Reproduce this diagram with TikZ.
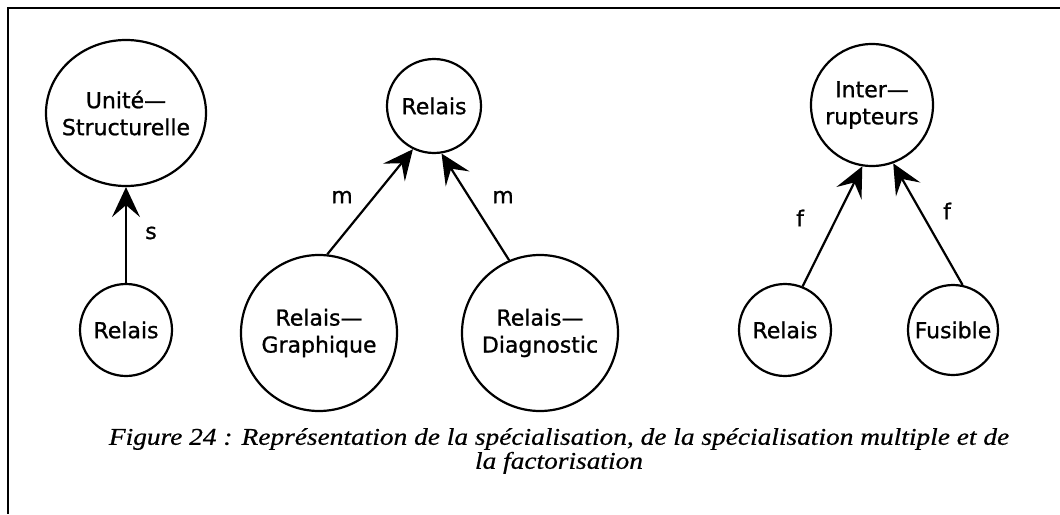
\documentclass[tikz,border=0pt]{standalone}
\usepackage{fontspec}
\setmainfont{Liberation Serif}
\newfontfamily\nodefont[FakeBold=1]{DejaVu Sans}
\newfontfamily\capfont[FakeStretch=1.14,FakeBold=0.6]{Liberation Serif}
\usetikzlibrary{arrows.meta,shapes.geometric}
\begin{document}
\begin{tikzpicture}[x=1pt,y=-1pt,
  every node/.style={inner sep=0pt, font=\nodefont\fontsize{22}{27}\selectfont, align=center},
  cls/.style={draw, circle, line width=2.2pt},
  link/.style={line width=2.2pt, -{Stealth[length=30pt,width=28pt,inset=12pt]}},
  lbl/.style={font=\nodefont\fontsize{22}{27}\selectfont},
  frameline/.style={line width=2pt}]
\useasboundingbox (0,0) rectangle (1060,514);
\draw[frameline] (1060,8) -- (8,8) -- (8,514);
% group 1
\node[cls, ellipse, inner xsep=-13pt, inner ysep=0pt, minimum width=160pt, minimum height=146pt] (us) at (126,113) {Unité—\\Structurelle};
\node[cls, minimum size=92pt] (r1) at (126,330) {Relais};
\draw[link] (r1.90) -- (us.270);
\node[lbl] (s) at (151,233) {s};
% group 2
\node[cls, minimum size=94pt] (r2) at (434,106) {Relais};
\node[cls, minimum size=156pt] (rg) at (319,333) {Relais—\\Graphique};
\node[cls, minimum size=156pt] (rd) at (540,333) {Relais—\\Diagnostic};
\draw[link] (rg.84) -- (r2.244);
\draw[link] (rd.113) -- (r2.279);
\node[lbl] (m1) at (342,197) {m};
\node[lbl] (m2) at (503,197) {m};
% group 3
\node[cls, minimum size=122pt] (it) at (872,105) {Inter—\\rupteurs};
\node[cls, minimum size=92pt] (r3) at (785,330) {Relais};
\node[cls, minimum size=90pt] (fu) at (953,330) {Fusible};
\draw[link] (r3.68) -- (it.261);
\draw[link] (fu.78) -- (it.290);
\node[lbl] (f1) at (800,218) {f};
\node[lbl] (f2) at (947,211) {f};
% caption
\node[font=\capfont\itshape\fontsize{24}{24}\selectfont, align=center] (cap) at (559,451)
  {Figure 24 : Représentation de la spécialisation, de la spécialisation multiple et de\\la factorisation};
\end{tikzpicture}
\end{document}
